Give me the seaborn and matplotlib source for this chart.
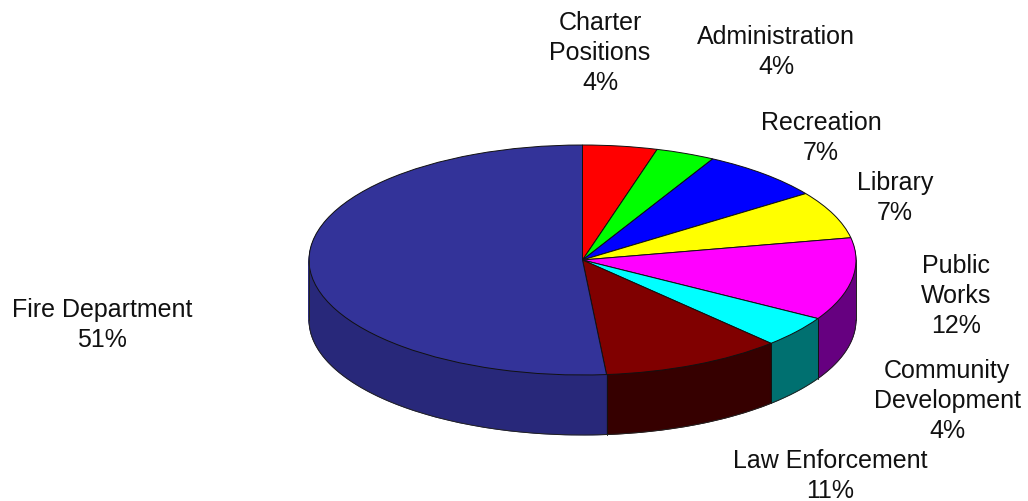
import numpy as np
import matplotlib
matplotlib.use("Agg")
import matplotlib.pyplot as plt
import seaborn as sns

sns.set_style("white")
plt.rcParams['font.family'] = ['Liberation Sans', 'DejaVu Sans']

categories = ["Charter\nPositions", "Administration", "Recreation", "Library",
              "Public\nWorks", "Community\nDevelopment", "Law Enforcement", "Fire Department"]
shares = [4.4, 3.5, 7.3, 6.7, 11.6, 4.4, 10.7, 51.4]
percent_labels = ["4%", "4%", "7%", "7%", "12%", "4%", "11%", "51%"]
top_colors = ["#ff0000", "#00ff00", "#0000ff", "#ffff00", "#ff00ff", "#00ffff", "#800000", "#333399"]
wall_colors = ["#800000", "#008000", "#000080", "#808000", "#660080", "#007070", "#360000", "#28287a"]
label_centers = [(600, 53), (776, 52), (821, 138), (895, 198), (956, 296), (947, 401), (830, 476), (102, 325)]

W, H = 1028, 502
cx, cy, rx, ry, depth = 582.5, 261, 273.5, 115, 60

fig = plt.figure(figsize=(W / 100, H / 100), dpi=100)
ax = fig.add_axes([0, 0, 1, 1])

def to_y(px):
    return px / ry

# Side wall: stacked pies, from the lowest layer up to just below the top face
for d in range(depth, 0, -1):
    wedges, _ = ax.pie(shares, colors=sns.color_palette(wall_colors), startangle=90, counterclock=False,
                       center=(0, -to_y(d)), radius=1)
    for w in wedges:
        w.set_edgecolor(w.get_facecolor())
        w.set_linewidth(0.6)

# Top face
ax.pie(shares, colors=sns.color_palette(top_colors), startangle=90, counterclock=False,
       center=(0, 0), radius=1,
       wedgeprops=dict(edgecolor="#111111", linewidth=0.7))

# Wall outlines, derived from the slice boundaries
bounds = 90 - np.cumsum(shares) / np.sum(shares) * 360
for b in bounds:
    t = np.deg2rad(b)
    if np.sin(t) < 0:
        x, y = np.cos(t), np.sin(t)
        ax.plot([x, x], [y, y - to_y(depth)], color="#111111", lw=0.7, zorder=5)
ax.plot([-1, -1], [0, -to_y(depth)], color="#222222", lw=0.7, zorder=5)
ax.plot([1, 1], [0, -to_y(depth)], color="#222222", lw=0.7, zorder=5)
tt = np.linspace(np.pi, 2 * np.pi, 200)
ax.plot(np.cos(tt), np.sin(tt) - to_y(depth), color="#222222", lw=0.7, zorder=5)

ax.set_aspect("auto")
ax.set_xlim(-cx / rx, (W - cx) / rx)
ax.set_ylim((cy - H) / ry, cy / ry)
ax.set_axis_off()

for cat, pct, (lx, ly) in zip(categories, percent_labels, label_centers):
    fig.text(lx / W, 1 - ly / H, f"{cat}\n{pct}", ha="center", va="center",
             fontsize=18, linespacing=1.29, color="#111111")

fig.savefig("out.png", dpi=100)
